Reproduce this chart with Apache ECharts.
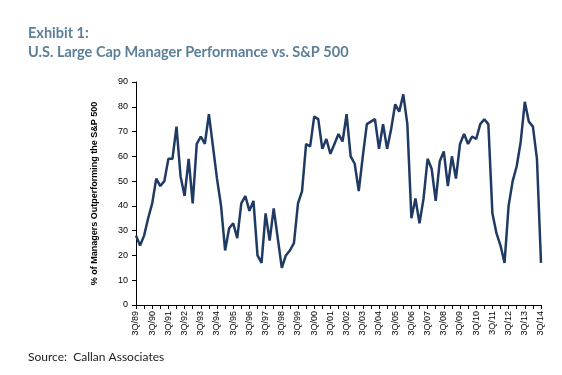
<!DOCTYPE html>
<html>
<head>
<meta charset="utf-8">
<script src="https://cdn.jsdelivr.net/npm/echarts@6/dist/echarts.min.js"></script>
<style>
  html, body { margin: 0; padding: 0; background: #fff; }
  #chart { width: 562px; height: 375px; }
</style>
</head>
<body>
<div id="chart"></div>
<script>
// quarters 3Q/89 .. 3Q/14
var quarters = [];
for (var y = 1989; y <= 2014; y++) {
  for (var q = 1; q <= 4; q++) {
    if ((y === 1989 && q < 3) || (y === 2014 && q > 3)) continue;
    quarters.push(q + 'Q/' + String(y).slice(2));
  }
}

// % of managers outperforming the S&P 500
var pctOutperforming = [
  28, 24, 28, 35, 41, 51, 48, 50, 59, 59,
  72, 52, 44, 59, 41, 65, 68, 65, 77, 64,
  51, 40, 22, 31, 33, 27, 41, 44, 38, 42,
  20, 17, 37, 26, 39, 27, 15, 20, 22, 25,
  41, 46, 65, 64, 76, 75, 63, 67, 61, 65,
  69, 66, 77, 60, 57, 46, 60, 73, 74, 75,
  63, 73, 63, 71, 81, 78, 85, 73, 35, 43,
  33, 43, 59, 55, 42, 58, 62, 48, 60, 51,
  65, 69, 65, 68, 67, 73, 75, 73, 37, 29,
  24, 17, 40, 50, 56, 66, 82, 74, 72, 59,
  17
];

var yTicks = [0, 90, 10]; // min, max, step

var chartDom = document.getElementById('chart');
var myChart = echarts.init(chartDom);
var option;

option = {
  backgroundColor: '#fff',
  animation: false,
  title: [
    {
      text: 'Exhibit 1:\nU.S. Large Cap Manager Performance vs. S&P 500',
      left: 28,
      top: 24,
      padding: 0,
      textStyle: {
        color: '#5b7f99',
        fontFamily: 'Lato',
        fontWeight: 'bold',
        fontSize: 14.5,
        lineHeight: 19
      }
    },
    {
      text: 'Source:  Callan Associates',
      left: 28,
      top: 351,
      padding: 0,
      textStyle: {
        color: '#222',
        fontFamily: 'Lato',
        fontWeight: 'normal',
        fontSize: 12
      }
    }
  ],
  grid: {
    left: 136,
    right: 21,
    top: 82,
    bottom: 70
  },
  xAxis: {
    type: 'category',
    data: quarters,
    boundaryGap: false,
    axisLine: { lineStyle: { color: '#000', width: 1 } },
    axisTick: {
      interval: 1,
      length: 4,
      lineStyle: { color: '#000' }
    },
    axisLabel: {
      interval: 3,
      rotate: 90,
      color: '#000',
      fontFamily: 'Liberation Sans',
      fontSize: 9,
      margin: 6
    }
  },
  yAxis: {
    type: 'value',
    min: yTicks[0],
    max: yTicks[1],
    interval: yTicks[2],
    name: '% of Managers Outperforming the S&P 500',
    nameLocation: 'middle',
    nameGap: 37,
    nameRotate: 90,
    nameTextStyle: {
      color: '#000',
      fontFamily: 'Liberation Sans',
      fontWeight: 'bold',
      fontSize: 9
    },
    axisLine: { show: true, lineStyle: { color: '#000', width: 1 } },
    axisTick: { show: true, length: 4, lineStyle: { color: '#000' } },
    axisLabel: {
      color: '#000',
      fontFamily: 'Liberation Sans',
      fontSize: 9,
      margin: 8
    },
    splitLine: { show: false }
  },
  series: [
    {
      type: 'line',
      data: pctOutperforming,
      symbol: 'none',
      lineStyle: {
        color: '#1f3a63',
        width: 2.5
      }
    }
  ]
};

option && myChart.setOption(option);
window.addEventListener('resize', function () {
  myChart.resize();
});
</script>
</body>
</html>
